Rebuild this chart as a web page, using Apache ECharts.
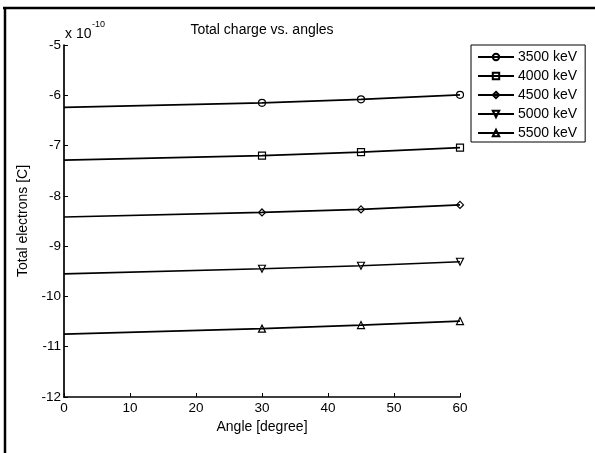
<!DOCTYPE html>
<html>
<head>
<meta charset="utf-8">
<script src="https://cdn.jsdelivr.net/npm/echarts@6/dist/echarts.min.js"></script>
<style>
  html, body { margin: 0; padding: 0; background: #fff; }
  #chart { width: 595px; height: 453px; }
</style>
</head>
<body>
<div id="chart"></div>
<script>
// values in units of 1e-10 C
const angles = [0, 30, 45, 60];
const names = ["3500 keV", "4000 keV", "4500 keV", "5000 keV", "5500 keV"];
const e3500 = [-6.24, -6.15, -6.08, -5.99];
const e4000 = [-7.29, -7.20, -7.13, -7.04];
const e4500 = [-8.42, -8.33, -8.27, -8.18];
const e5000 = [-9.55, -9.45, -9.39, -9.31];
const e5500 = [-10.75, -10.64, -10.57, -10.49];
const yTicks = [-12, -11, -10, -9, -8, -7, -6, -5];

const allValues = [e3500, e4000, e4500, e5000, e5500];
const symbols = ["circle", "rect", "diamond", "triangle", "triangle"];
const rotations = [0, 0, 0, 180, 0];
const font = "Liberation Sans, Arial, sans-serif";

let myChart = echarts.init(document.getElementById("chart"), null, { renderer: "canvas" });

const seriesList = allValues.map((vals, i) => ({
  type: "line",
  name: names[i],
  symbol: symbols[i],
  symbolSize: 7,
  symbolRotate: rotations[i],
  showAllSymbol: true,
  animation: false,
  lineStyle: { color: "#000", width: 1.7 },
  itemStyle: { color: "rgba(255,255,255,0)", borderColor: "#000", borderWidth: 1.2 },
  data: angles.map((a, j) => (j === 0 ? { value: [a, vals[j]], symbol: "none" } : [a, vals[j]])),
}));

const option = {
  backgroundColor: "#fff",
  animation: false,
  grid: { left: 64, right: 135, top: 45, bottom: 56 },
  xAxis: {
    type: "value",
    min: 0,
    max: 60,
    interval: 10,
    name: "Angle [degree]",
    nameLocation: "middle",
    nameGap: 22,
    nameTextStyle: { color: "#000", fontSize: 14, fontFamily: font },
    axisLine: { lineStyle: { color: "#000", width: 1.7 } },
    axisTick: { inside: true, length: 4, lineStyle: { color: "#000" } },
    axisLabel: { color: "#000", fontSize: 13.5, fontFamily: font, margin: 4 },
    splitLine: { show: false },
  },
  yAxis: {
    type: "value",
    min: -12,
    max: -5,
    interval: 1,
    name: "Total electrons [C]",
    nameLocation: "middle",
    nameGap: 30,
    nameTextStyle: { color: "#000", fontSize: 14, fontFamily: font },
    axisLine: { show: true, lineStyle: { color: "#000", width: 1.7 } },
    axisTick: { show: true, inside: true, length: 4, lineStyle: { color: "#000" } },
    axisLabel: {
      color: "#000", fontSize: 13.5, fontFamily: font, margin: 3,
      formatter: (v) => (yTicks.includes(v) ? String(v) : ""),
    },
    splitLine: { show: false },
  },
  legend: {
    orient: "vertical",
    left: 471,
    top: 45,
    padding: [5, 8, 2, 6],
    itemGap: 5,
    itemWidth: 36,
    itemHeight: 8,
    borderColor: "#000",
    borderWidth: 1,
    backgroundColor: "#fff",
    textStyle: { color: "#000", fontSize: 14, fontFamily: font, padding: [0, 0, 0, -1] },
    data: names,
  },
  graphic: [
    // frame: only top and left edges are visible in the original
    {
      type: "line",
      shape: { x1: 3, y1: 8, x2: 595, y2: 8 },
      style: { stroke: "#000", lineWidth: 2.5 },
      silent: true,
    },
    {
      type: "line",
      shape: { x1: 5, y1: 7, x2: 5, y2: 453 },
      style: { stroke: "#000", lineWidth: 2.5 },
      silent: true,
    },
    {
      type: "text",
      x: 262, y: 30,
      style: { text: "Total charge vs. angles", fill: "#000", font: "14px " + font, textAlign: "center", textVerticalAlign: "middle" },
    },
    {
      type: "text",
      x: 65, y: 34,
      style: { text: "x 10", fill: "#000", font: "14px " + font, textAlign: "left", textVerticalAlign: "middle" },
    },
    {
      type: "text",
      x: 92, y: 25,
      style: { text: "-10", fill: "#000", font: "9px " + font, textAlign: "left", textVerticalAlign: "middle" },
    },
  ],
  series: seriesList,
};

myChart.setOption(option);

window.addEventListener("resize", function () {
  myChart.resize();
});
</script>
</body>
</html>
